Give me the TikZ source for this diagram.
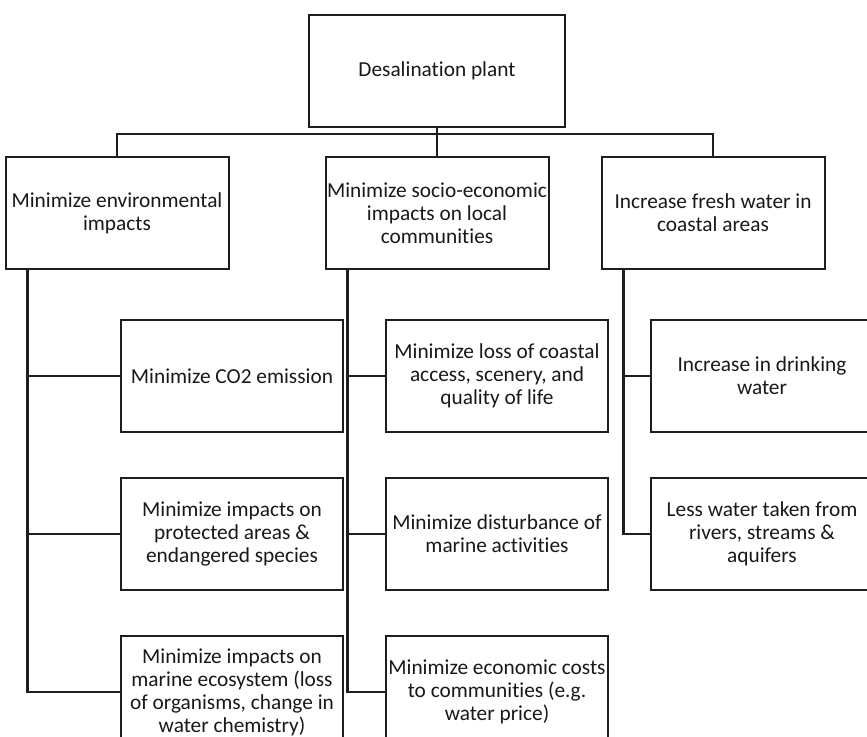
\documentclass[tikz,border=0pt]{standalone}
\usepackage{fontspec}
\setmainfont{Carlito}[Ligatures=NoCommon]
\usepackage{tikz}
\usepackage{xcolor}
\usetikzlibrary{positioning, calc}
\definecolor{lineDark}{RGB}{30,30,30}
\definecolor{textDark}{RGB}{25,25,25}
\tikzset{
    rootbox/.style={
        rectangle,
        draw=lineDark,
        line width=1.5pt,
        align=center,
        fill=white,
        minimum width=192pt,
        minimum height=84pt,
        inner sep=1pt,
        text=textDark,
        font=\fontsize{16}{17.25}\selectfont
    },
    goalbox/.style={
        rectangle,
        draw=lineDark,
        line width=1.5pt,
        align=center,
        fill=white,
        minimum width=167.25pt,
        minimum height=84pt,
        inner sep=1pt,
        text=textDark,
        font=\fontsize{16}{17.25}\selectfont
    },
    subbox/.style={
        rectangle,
        draw=lineDark,
        line width=1.5pt,
        align=center,
        fill=white,
        minimum width=166.5pt,
        minimum height=84pt,
        inner sep=1pt,
        text=textDark,
        font=\fontsize{16}{17.25}\selectfont
    },
    link/.style={draw=lineDark, line width=1.6pt}
}
\begin{document}
\begin{tikzpicture}[x=0.75pt, y=-0.75pt, node distance=33pt]
    \clip (0,0) rectangle (867,737);
    % top level
    \node[rootbox] (plant) at (437,71) {Desalination plant};
    % objectives
    \node[goalbox, below=21pt of plant] (social) {Minimize socio-economic\\impacts on local\\communities};
    \node[goalbox, left=71.25pt of social] (environ) {Minimize environmental\\impacts};
    \node[goalbox, right=38.25pt of social] (fresh) {Increase fresh water in\\coastal areas};
    % environmental column
    \node[subbox] (co2) at (232,376) {Minimize CO2 emission};
    \node[subbox, below=of co2] (protect) {Minimize impacts on\\protected areas \&\\endangered species};
    \node[subbox, below=of protect] (marine) {Minimize impacts on\\marine ecosystem (loss\\of organisms, change in\\water chemistry)};
    % socio-economic column
    \node[subbox] (coast) at (497,376) {Minimize loss of coastal\\access, scenery, and\\quality of life};
    \node[subbox, below=of coast] (disturb) {Minimize disturbance of\\marine activities};
    \node[subbox, below=of disturb] (costs) {Minimize economic costs\\to communities (e.g.\\water price)};
    % fresh water column
    \node[subbox] (drink) at (762,376) {Increase in drinking\\water};
    \node[subbox, below=of drink] (rivers) {Less water taken from\\rivers, streams \&\\aquifers};
    % tree connectors
    \draw[link] (plant.south) -- ++(0,6) coordinate (hub);
    \draw[link] (environ.north) |- (hub) -| (fresh.north);
    \draw[link] (hub) -- (social.north);
    \coordinate (envspine) at ([xshift=17.25pt]environ.south west);
    \coordinate (socspine) at ([xshift=17.25pt]social.south west);
    \coordinate (frespine) at ([xshift=17.25pt]fresh.south west);
    \draw[link] (envspine) |- (marine.west);
    \draw[link] (co2.west) -- (co2.west -| envspine);
    \draw[link] (protect.west) -- (protect.west -| envspine);
    \draw[link] (socspine) |- (costs.west);
    \draw[link] (coast.west) -- (coast.west -| socspine);
    \draw[link] (disturb.west) -- (disturb.west -| socspine);
    \draw[link] (frespine) |- (rivers.west);
    \draw[link] (drink.west) -- (drink.west -| frespine);
\end{tikzpicture}
\end{document}
